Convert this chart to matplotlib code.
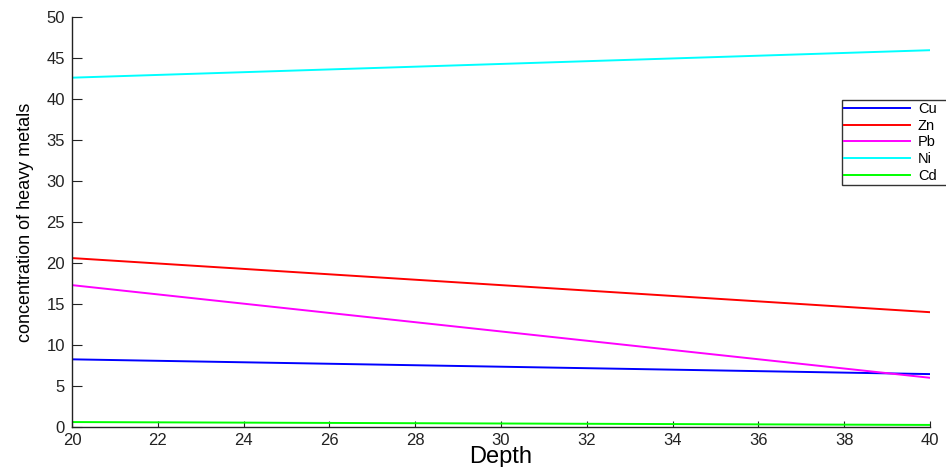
import matplotlib
matplotlib.use('Agg')
import matplotlib.pyplot as plt

# depth range and concentrations at both ends (linear trends)
depth = [20, 40]
cu = [8.25, 6.45]
zn = [20.6, 14.0]
pb = [17.3, 6.0]
ni = [42.6, 45.95]
cd = [0.6, 0.25]

metals = ['Cu', 'Zn', 'Pb', 'Ni', 'Cd']
series = [cu, zn, pb, ni, cd]
colors = ['#0000ff', '#ff0000', '#ff00ff', '#00ffff', '#00ff00']

plt.rcParams['font.family'] = ['Liberation Sans', 'DejaVu Sans']

fig = plt.figure(figsize=(9.46, 4.67), dpi=100)
ax = fig.add_axes([0.0761, 0.0857, 0.9069, 0.8779])

for name, vals, col in zip(metals, series, colors):
    ax.plot(depth, vals, color=col, linewidth=1.4, label=name)

ax.set_xlim(20, 40)
ax.set_ylim(0, 50)
ax.set_xticks(range(20, 41, 2))
ax.set_yticks(range(0, 51, 5))
ax.tick_params(direction='in', labelsize=12, colors='#222222')
ax.tick_params(axis='y', length=7, pad=5)
ax.tick_params(axis='x', length=4, pad=4)
ax.spines['top'].set_visible(False)
ax.spines['right'].set_visible(False)
for sp in ('left', 'bottom'):
    ax.spines[sp].set_color('#222222')
    ax.spines[sp].set_linewidth(1.0)

ax.set_xlabel('Depth', fontsize=17, labelpad=-1)
ax.set_ylabel('concentration of heavy metals', fontsize=13, labelpad=9)

# legend box runs past the right edge of the figure
leg = ax.legend(loc='upper left',
                bbox_to_anchor=(842 / 946, 1 - 100 / 467, 115 / 946, 0),
                bbox_transform=fig.transFigure, fontsize=10.5, frameon=True,
                fancybox=False, edgecolor='black', handlelength=4.5,
                handletextpad=0.55, borderpad=0.15, labelspacing=0.18,
                borderaxespad=0, mode='expand')
leg.get_frame().set_linewidth(1.0)

fig.savefig('out.png', dpi=100, facecolor='white')
